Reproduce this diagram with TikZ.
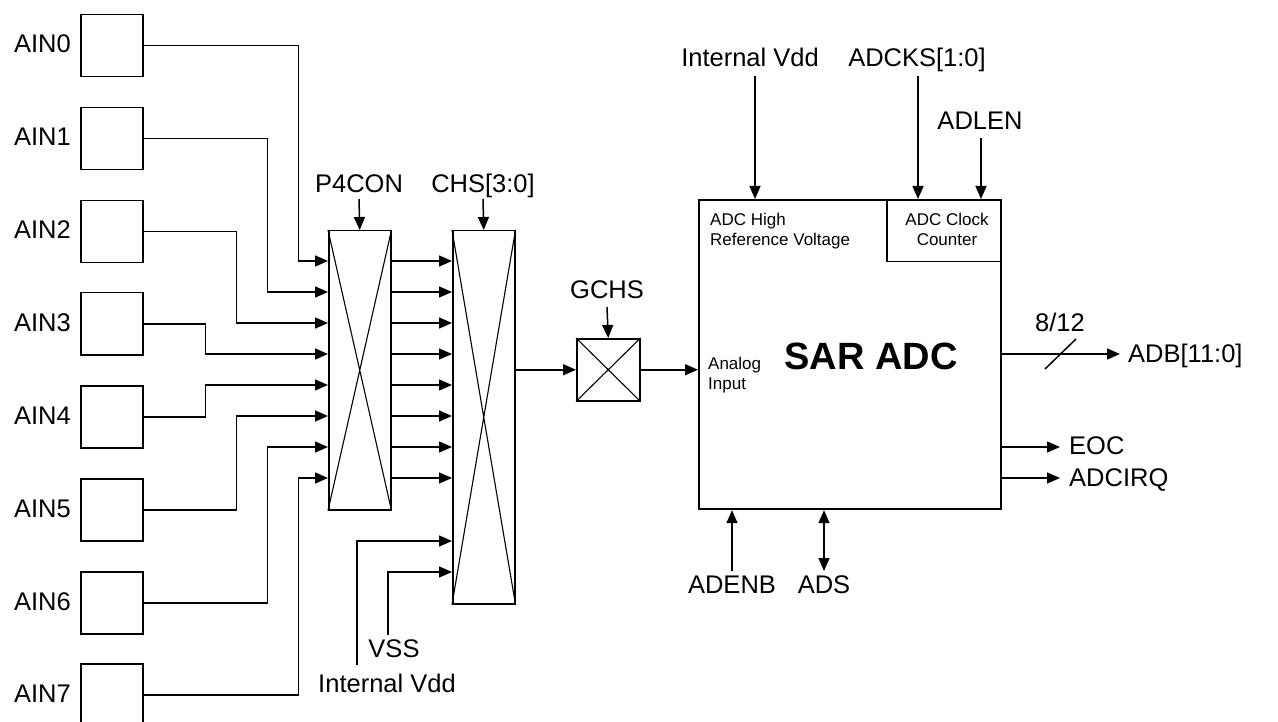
\documentclass[tikz,border=0pt]{standalone}
\usepackage{fontspec}
\setmainfont{Liberation Sans}
\usetikzlibrary{arrows.meta}
\begin{document}
\begin{tikzpicture}[x=1pt,y=-1pt,
  wire/.style={line width=1.5pt},
  arr/.style={wire,-{Triangle[length=13pt,width=11pt]}},
  darr/.style={wire,{Triangle[length=13pt,width=11pt]}-{Triangle[length=13pt,width=11pt]}},
  blk/.style={draw,line width=1.5pt,inner sep=0pt,anchor=north west},
  pinbox/.style={blk,minimum width=62pt,minimum height=62pt},
  diag/.style={line width=1.1pt},
  lbl/.style={font=\fontsize{25.5}{30}\selectfont,inner sep=0pt},
  small/.style={font=\fontsize{17}{20}\selectfont,inner sep=0pt},
]
\useasboundingbox (0,0) rectangle (1278,722);

% input pins
\foreach \i/\t in {0/14,1/107,2/200,3/292,4/385,5/478,6/571,7/663}{
  \node[pinbox] (a\i) at (80,\t) {};
  \node[lbl,anchor=base east] (l\i) at (71,\t+39) {AIN\i};
}

% multiplexers
\node[blk,minimum width=62pt,minimum height=279pt] (mux1) at (328,230) {};
\node[blk,minimum width=62pt,minimum height=373pt] (mux2) at (452,230) {};
\draw[diag] (mux1.north west) -- (mux1.south east) (mux1.north east) -- (mux1.south west);
\draw[diag] (mux2.north west) -- (mux2.south east) (mux2.north east) -- (mux2.south west);

\foreach \i in {0,...,7}{
  \coordinate (m1i\i) at (328,261+31*\i);
  \coordinate (m1o\i) at (390,261+31*\i);
  \coordinate (m2i\i) at (452,261+31*\i);
}
\foreach \i in {0,...,7}{ \draw[arr] (m1o\i) -- (m2i\i); }

\draw[arr] (a0.east) -- ++(155,0) |- (m1i0);
\draw[arr] (a1.east) -- ++(124,0) |- (m1i1);
\draw[arr] (a2.east) -- ++(93,0) |- (m1i2);
\draw[arr] (a3.east) -- ++(62,0) |- (m1i3);
\draw[arr] (a4.east) -- ++(62,0) |- (m1i4);
\draw[arr] (a5.east) -- ++(93,0) |- (m1i5);
\draw[arr] (a6.east) -- ++(124,0) |- (m1i6);
\draw[arr] (a7.east) -- ++(155,0) |- (m1i7);

% control labels of muxes
\node[lbl,anchor=base] (p4con) at (359,193) {P4CON};
\node[lbl,anchor=base] (chs) at (483,193) {CHS[3:0]};
\coordinate (p4s) at (359,199);
\coordinate (chss) at (483,199);
\draw[arr] (p4s) -- (mux1.north);
\draw[arr] (chss) -- (mux2.north);

% extra mux2 inputs
\coordinate (m2i8) at (452,541);
\coordinate (m2i9) at (452,572);
\coordinate (vddB) at (357,665);
\coordinate (vssB) at (388,635);
\draw[arr] (vddB) |- (m2i8);
\draw[arr] (vssB) |- (m2i9);
\node[lbl,anchor=base] (vss) at (394,657) {VSS};
\node[lbl,anchor=base] (ivdd2) at (387,692) {Internal Vdd};

% GCHS switch
\node[blk,minimum width=63pt,minimum height=62pt] (gchs) at (576,338) {};
\draw[diag] (gchs.north west) -- (gchs.south east) (gchs.north east) -- (gchs.south west);
\node[lbl,anchor=base] (gchsl) at (607,299) {GCHS};
\coordinate (gchss) at (607,307);
\draw[arr] (gchss) -- (gchs.north);
\draw[arr] (mux2.east |- gchs.west) -- (gchs.west);

% SAR ADC
\node[blk,minimum width=114pt,minimum height=62pt] (clk) at (886,199) {};
\node[blk,line width=2.2pt,minimum width=302pt,minimum height=309pt] (sar) at (698,199) {};
\draw[arr] (gchs.east) -- (sar.west |- gchs.east);

\node[small,anchor=base west] (hr1) at (710,226) {ADC High};
\node[small,anchor=base west] (hr2) at (710,246) {Reference Voltage};
\node[small,anchor=base] (ck1) at (947,226) {ADC Clock};
\node[small,anchor=base] (ck2) at (947,246) {Counter};
\node[small,anchor=base west] (ai1) at (708,369) {Analog};
\node[small,anchor=base west] (ai2) at (708,389) {Input};
\node[font=\bfseries\fontsize{38}{44}\selectfont,inner sep=0pt,anchor=base] (sartxt) at (871,369) {SAR ADC};

% top inputs
\node[lbl,anchor=base] (ivdd) at (750,67) {Internal Vdd};
\node[lbl,anchor=base] (adcks) at (917,67) {ADCKS[1:0]};
\node[lbl,anchor=base] (adlen) at (980,130) {ADLEN};
\coordinate (ivs) at (755,76);
\coordinate (cks) at (918,76);
\coordinate (lens) at (981,138);
\draw[arr] (ivs) -- (ivs |- sar.north);
\draw[arr] (cks) -- (cks |- clk.north);
\draw[arr] (lens) -- (lens |- clk.north);

% bottom inputs
\node[lbl,anchor=base] (adenb) at (732,593) {ADENB};
\node[lbl,anchor=base] (ads) at (824,593) {ADS};
\coordinate (enb) at (732,571);
\coordinate (adsb) at (824,571);
\draw[arr] (enb) -- (enb |- sar.south);
\draw[darr] (adsb) -- (adsb |- sar.south);

% outputs
\coordinate (adbS) at (1000,354);
\coordinate (adbE) at (1120,354);
\coordinate (eocS) at (1000,447);
\coordinate (eocE) at (1060,447);
\coordinate (irqS) at (1000,478);
\coordinate (irqE) at (1060,478);
\coordinate (sl1) at (1045,369);
\coordinate (sl2) at (1076,339);
\draw[arr] (adbS) -- (adbE);
\draw[wire] (sl1) -- (sl2);
\node[lbl,anchor=base] (bits) at (1060,331) {8/12};
\node[lbl,anchor=base west] (adb) at (1128,362) {ADB[11:0]};
\draw[arr] (eocS) -- (eocE);
\draw[arr] (irqS) -- (irqE);
\node[lbl,anchor=base west] (eoc) at (1069,454) {EOC};
\node[lbl,anchor=base west] (irq) at (1069,486) {ADCIRQ};
\end{tikzpicture}
\end{document}
